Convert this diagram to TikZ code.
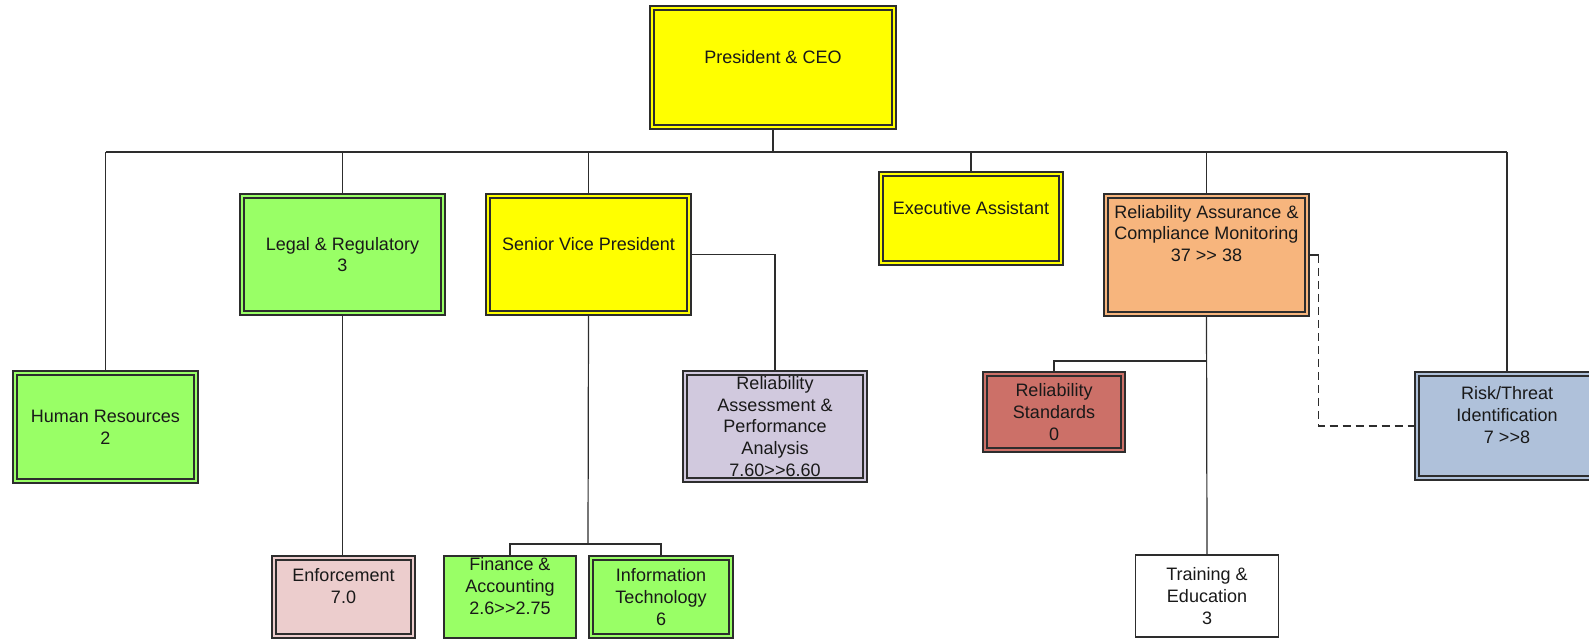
\documentclass[tikz,border=0pt]{standalone}
\usepackage{xcolor}
\usepackage{fontspec}
\setmainfont{Liberation Sans}
\usetikzlibrary{backgrounds}

\definecolor{bossyellow}{RGB}{255,255,0}
\definecolor{staffgreen}{RGB}{153,255,102}
\definecolor{enfpink}{RGB}{236,205,205}
\definecolor{assesslilac}{RGB}{209,201,222}
\definecolor{assurepeach}{RGB}{247,181,125}
\definecolor{stdbrick}{RGB}{204,112,104}
\definecolor{risksteel}{RGB}{175,193,218}
\definecolor{lineedge}{RGB}{45,45,45}

\tikzset{
    unit/.style={draw=lineedge, line width=0.65pt, double=#1, double distance=1.4pt, fill=#1,
        align=center, inner sep=0pt, text=black!90, font=\fontsize{9}{10.85}\selectfont},
    plainunit/.style={draw=lineedge, line width=0.65pt, fill=#1,
        align=center, inner sep=0pt, text=black!90, font=\fontsize{9}{10.85}\selectfont},
    link/.style={draw=lineedge, line width=0.6pt}
}

\begin{document}
\begin{tikzpicture}[x=0.5pt, y=-0.5pt]
        \useasboundingbox (0,0) rectangle (1589,641);

        % top
        \node [unit=bossyellow, minimum width=121pt, minimum height=59.5pt] (ceo) at (773,67.5) {President \& CEO\\~};

        % second row
        \node [unit=staffgreen, minimum width=100.5pt, minimum height=58.5pt] (legal) at (342.5,254.5) {Legal \& Regulatory\\3};
        \node [unit=bossyellow, minimum width=100.5pt, minimum height=58.5pt] (svp) at (588.5,254.5) {Senior Vice President\\~};
        \node [unit=bossyellow, minimum width=90pt, minimum height=44.5pt] (ea) at (971,218.5) {Executive Assistant\\~};
        \node [unit=assurepeach, minimum width=100.5pt, minimum height=59pt] (racm) at (1206.5,255) {Reliability Assurance \&\\Compliance Monitoring\\37 >{}> 38\\~\\~};

        % third row
        \node [unit=staffgreen, minimum width=90.5pt, minimum height=54pt] (hr) at (105.5,427) {Human Resources\\2};
        \node [unit=assesslilac, minimum width=90pt, minimum height=53.5pt] (ra) at (775,426.5) {Reliability\\Assessment \&\\Performance\\Analysis\\7.60>{}>6.60};
        \node [unit=stdbrick, minimum width=69pt, minimum height=38pt] (rs) at (1054,412) {Reliability\\Standards\\0};
        \node [unit=risksteel, minimum width=90pt, minimum height=52pt] (risk) at (1507,426) {Risk/Threat\\Identification\\7 >{}>8\\~};

        % bottom row
        \node [unit=enfpink, minimum width=69.5pt, minimum height=39pt] (enf) at (343.5,597) {Enforcement\\7.0\\~};
        \node [plainunit=staffgreen, minimum width=66pt, minimum height=41pt] (fin) at (510,597) {Finance \&\\Accounting\\2.6>{}>2.75\\~};
        \node [unit=staffgreen, minimum width=70pt, minimum height=39pt] (it) at (661,597) {Information\\Technology\\6};
        \node [plainunit=white, minimum width=71.5pt, minimum height=41pt] (train) at (1207,596) {Training \&\\Education\\3};

        % connectors
        \begin{scope}[on background layer]
            \coordinate (bus) at (773,152);
            \coordinate (stdbus) at (1207,361);
            \coordinate (finbus) at (588,544);
            \draw [link] (ceo.south) -- (bus);
            \draw [link] (hr.north |- bus) -- (risk.north |- bus);
            \foreach \n in {hr,legal,svp,ea,racm,risk}
                \draw [link] (\n.north) -- (\n.north |- bus);
            \draw [link] (svp.east) -| (ra.north);
            \draw [link] (legal.south) -- (legal.south |- enf.north);
            \draw [link] (svp.south) -- (finbus);
            \draw [link] (fin.north) |- (finbus) -| (it.north);
            \draw [link] (racm.south) -- (train.north);
            \draw [link] (rs.north) |- (stdbus);
            \draw [link] (racm.east) -- ++(11,0) coordinate (dotted);
            \draw [link, dash pattern=on 4pt off 2.5pt] (dotted) |- (risk.west);
        \end{scope}
    \end{tikzpicture}
\end{document}
